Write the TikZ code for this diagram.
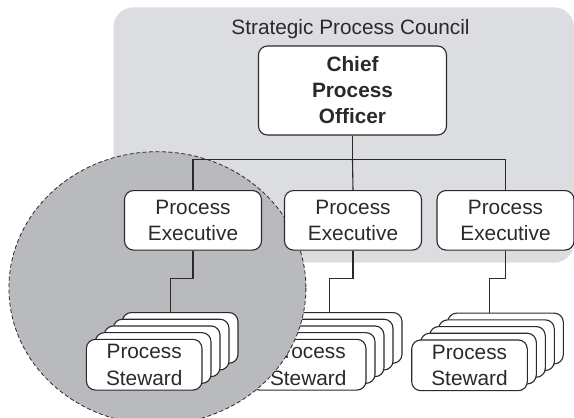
\documentclass[tikz,border=0pt]{standalone}
\usepackage{fontspec}
\setmainfont{Liberation Sans}
\definecolor{council}{HTML}{DCDDE0}
\definecolor{zone}{HTML}{B9BABD}
\definecolor{ink}{HTML}{2A2A2A}
\begin{document}
\begin{tikzpicture}[x=1pt,y=-1pt,
  box/.style={draw=ink,line width=1.1pt,fill=white,rounded corners=9pt,align=center,
    inner sep=0pt,font=\fontsize{20.8}{25.5}\selectfont,text=ink},
  cpobox/.style={box,minimum width=188pt,minimum height=89pt,font=\bfseries\fontsize{20.8}{26}\selectfont},
  execbox/.style={box,minimum width=137pt,minimum height=59.5pt},
  stewbox/.style={box,minimum width=115.6pt,minimum height=50.7pt,font=\fontsize{20.8}{26.5}\selectfont},
  link/.style={draw=ink,line width=1.1pt}]
\useasboundingbox (0,0) rectangle (574,418);
% council background
\fill[council,rounded corners=20pt] (113.5,7.3) rectangle (574,262.7);
\node[text=ink,font=\fontsize{20.8}{25}\selectfont] (title) at (350.5,29.3) {Strategic Process Council};
% middle steward stack (partly under the zone)
\foreach \i in {4,3,2,1}{
  \node[stewbox] (ms\i) at ({308.2+9*\i},{364.7-6.7*\i}) {};
}
\node[stewbox] (ms0) at (308.2,364.7) {Process\\Steward};
% right steward stack
\foreach \i in {4,3,2,1}{
  \node[stewbox] (rs\i) at ({469.5+9*\i},{365.3-6.7*\i}) {};
}
\node[stewbox] (rs0) at (469.5,365.3) {Process\\Steward};
% zone
\fill[zone] (157.4,288) ellipse [x radius=148.5, y radius=136.3];
\draw[ink,line width=0.8pt,dash pattern=on 4pt off 2.5pt] (157.4,288) ellipse [x radius=148.5, y radius=136.3];
% nodes
\node[cpobox] (cpo) at (352.5,90.5) {Chief\\Process\\Officer};
\node[execbox] (e1) at (193,220.3) {Process\\Executive};
\node[execbox] (e2) at (353,220.3) {Process\\Executive};
\node[execbox] (e3) at (505.5,220.3) {Process\\Executive};
\foreach \i in {4,3,2,1}{
  \node[stewbox] (ls\i) at ({144.2+9*\i},{364.7-6.7*\i}) {};
}
\node[stewbox] (ls0) at (144.2,364.7) {Process\\Steward};
% connectors
\coordinate (bar) at (353.6,159.3);
\draw[link] (cpo.south) -- (cpo.south |- bar);
\draw[link] (e1.north) -- (e1.north |- bar) -- (e3.north |- bar) -- (e3.north);
\draw[link] (cpo.south |- bar) -- (e2.north);
\draw[link] (e1.south) -- ++(0,27.8) -| (ls4.north -| 170.2,0);
\draw[link] (e2.south) -- ++(0,27.8) -| (ms4.north -| 329.4,0);
\draw[link] (e3.south) -- ++(0,27.8) -| (rs4.north -| 489.8,0);
\end{tikzpicture}
\end{document}
